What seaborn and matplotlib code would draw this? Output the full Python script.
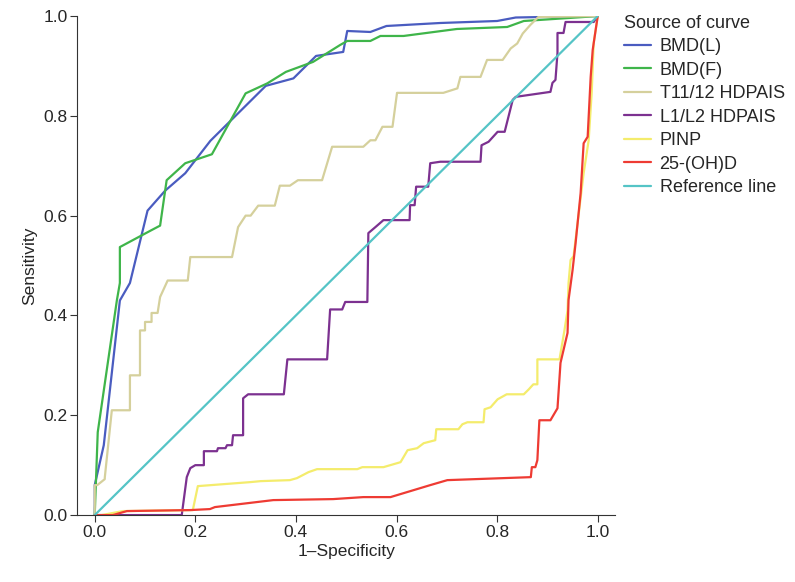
import pandas as pd
import matplotlib
matplotlib.use('Agg')
import matplotlib.pyplot as plt
import seaborn as sns

# ROC curves
bmd_l_x = [0, 0.0, 0.018, 0.05, 0.07, 0.105, 0.14, 0.18, 0.23, 0.30, 0.34, 0.395, 0.44, 0.494,
           0.502, 0.548, 0.58, 0.687, 0.80, 0.837, 1.0]
bmd_l_y = [0, 0.06, 0.14, 0.43, 0.465, 0.61, 0.65, 0.685, 0.75, 0.82, 0.86, 0.875, 0.92, 0.928,
           0.97, 0.968, 0.98, 0.986, 0.99, 0.997, 1.0]

bmd_f_x = [0, 0.006, 0.044, 0.05, 0.05, 0.113, 0.13, 0.143, 0.18, 0.233, 0.30, 0.343, 0.38, 0.434,
           0.488, 0.502, 0.548, 0.568, 0.614, 0.72, 0.82, 0.853, 0.972, 1.0]
bmd_f_y = [0, 0.166, 0.43, 0.465, 0.537, 0.571, 0.58, 0.671, 0.705, 0.723, 0.845, 0.865, 0.888, 0.908,
           0.942, 0.95, 0.95, 0.96, 0.96, 0.974, 0.978, 0.99, 0.998, 1.0]

t11_x = [0, 0.0, 0.005, 0.02, 0.02, 0.034, 0.07, 0.07, 0.09, 0.09, 0.1, 0.1, 0.113, 0.113, 0.125,
         0.13, 0.145, 0.185, 0.19, 0.273, 0.285, 0.30, 0.31, 0.325, 0.358, 0.368, 0.388, 0.404,
         0.452, 0.472, 0.534, 0.548, 0.558, 0.572, 0.592, 0.601, 0.693, 0.721, 0.727, 0.767, 0.78,
         0.811, 0.827, 0.84, 0.851, 0.866, 0.882, 1.0]
t11_y = [0, 0.06, 0.06, 0.072, 0.075, 0.21, 0.21, 0.28, 0.28, 0.37, 0.37, 0.387, 0.387, 0.405, 0.405,
         0.437, 0.47, 0.47, 0.517, 0.517, 0.577, 0.60, 0.60, 0.62, 0.62, 0.66, 0.66, 0.671,
         0.671, 0.738, 0.738, 0.751, 0.751, 0.778, 0.778, 0.846, 0.846, 0.855, 0.878, 0.878, 0.912,
         0.912, 0.935, 0.945, 0.965, 0.982, 0.998, 1.0]

l1_x = [0, 0.173, 0.183, 0.19, 0.2, 0.217, 0.217, 0.243, 0.245, 0.26, 0.263, 0.273, 0.275, 0.295,
        0.295, 0.305, 0.376, 0.383, 0.462, 0.468, 0.492, 0.498, 0.542, 0.544, 0.558, 0.574, 0.626,
        0.627, 0.636, 0.639, 0.663, 0.667, 0.687, 0.767, 0.769, 0.783, 0.801, 0.815, 0.831, 0.837,
        0.906, 0.91, 0.916, 0.92, 0.92, 0.932, 0.936, 0.992, 1.0]
l1_y = [0, 0.0, 0.076, 0.094, 0.1, 0.1, 0.128, 0.128, 0.134, 0.134, 0.14, 0.14, 0.16, 0.16,
        0.234, 0.242, 0.242, 0.312, 0.312, 0.412, 0.412, 0.427, 0.427, 0.565, 0.577, 0.591, 0.591,
        0.621, 0.621, 0.658, 0.658, 0.705, 0.708, 0.708, 0.741, 0.748, 0.768, 0.768, 0.832, 0.838,
        0.848, 0.866, 0.872, 0.926, 0.966, 0.966, 0.988, 0.988, 1.0]

pinp_x = [0, 0.014, 0.056, 0.195, 0.205, 0.309, 0.33, 0.388, 0.402, 0.425, 0.442, 0.522, 0.532,
          0.574, 0.608, 0.622, 0.641, 0.654, 0.677, 0.679, 0.723, 0.731, 0.741, 0.773, 0.775, 0.787,
          0.801, 0.819, 0.853, 0.863, 0.872, 0.88, 0.88, 0.924, 0.934, 0.94, 0.942, 0.946, 0.952,
          0.972, 0.982, 0.988, 0.992, 1.0]
pinp_y = [0, 0.0, 0.008, 0.01, 0.058, 0.066, 0.068, 0.07, 0.074, 0.086, 0.092, 0.092, 0.096,
          0.096, 0.106, 0.13, 0.134, 0.144, 0.15, 0.172, 0.172, 0.182, 0.186, 0.186, 0.212, 0.216,
          0.232, 0.242, 0.242, 0.252, 0.262, 0.262, 0.312, 0.312, 0.371, 0.41, 0.465, 0.511, 0.519,
          0.685, 0.751, 0.846, 0.946, 1.0]

ohd_x = [0, 0.036, 0.064, 0.19, 0.229, 0.239, 0.355, 0.474, 0.534, 0.588, 0.667, 0.701, 0.867,
         0.869, 0.876, 0.88, 0.884, 0.906, 0.92, 0.926, 0.94, 0.942, 0.95, 0.956, 0.966, 0.972,
         0.98, 0.986, 0.99, 1.0]
ohd_y = [0, 0.0, 0.008, 0.01, 0.012, 0.016, 0.03, 0.032, 0.036, 0.036, 0.06, 0.07, 0.076,
         0.096, 0.096, 0.11, 0.19, 0.19, 0.214, 0.305, 0.365, 0.431, 0.491, 0.545, 0.645, 0.745,
         0.758, 0.878, 0.932, 1.0]

ref_x = [0, 1]
ref_y = [0, 1]

names = ['BMD(L)', 'BMD(F)', 'T11/12 HDPAIS', 'L1/L2 HDPAIS', 'PINP', '25-(OH)D', 'Reference line']
xs = [bmd_l_x, bmd_f_x, t11_x, l1_x, pinp_x, ohd_x, ref_x]
ys = [bmd_l_y, bmd_f_y, t11_y, l1_y, pinp_y, ohd_y, ref_y]
colors = ['#4a5cc0', '#3fb54a', '#d5d09c', '#7c3190', '#f4ec6c', '#ee3b33', '#55c4c6']

frames = []
for n, x, y in zip(names, xs, ys):
    frames.append(pd.DataFrame({'fpr': x, 'tpr': y, 'curve': n, 'step': range(len(x))}))
df = pd.concat(frames, ignore_index=True)

sns.set_style('ticks')
plt.rcParams['font.family'] = ['Liberation Sans', 'DejaVu Sans']

fig = plt.figure(figsize=(7.95, 5.82), dpi=100)
ax = fig.add_axes([0.097, 0.115, 0.677, 0.8575])

sns.lineplot(data=df, x='fpr', y='tpr', hue='curve', hue_order=names, palette=colors,
             sort=False, estimator=None, linewidth=1.6, ax=ax)

ax.set_xlim(-0.035, 1.035)
ax.set_ylim(0, 1)
ax.set_xticks([0, 0.2, 0.4, 0.6, 0.8, 1.0])
ax.set_yticks([0, 0.2, 0.4, 0.6, 0.8, 1.0])
ax.tick_params(labelsize=12.5, length=5, pad=2, color='#333333')
ax.set_xlabel('1–Specificity', fontsize=12.5, labelpad=3)
ax.set_ylabel('Sensitivity', fontsize=12.5, labelpad=4)
sns.despine(ax=ax)
for s in ['left', 'bottom']:
    ax.spines[s].set_color('#333333')

handles, labels = ax.get_legend_handles_labels()
ax.legend(handles, labels, title='Source of curve', loc='upper left', bbox_to_anchor=(0.985, 1.035),
          frameon=False, fontsize=13, title_fontsize=13, handlelength=1.5, alignment='left',
          labelspacing=0.36, handletextpad=0.5)

fig.savefig('out.png', dpi=100)
